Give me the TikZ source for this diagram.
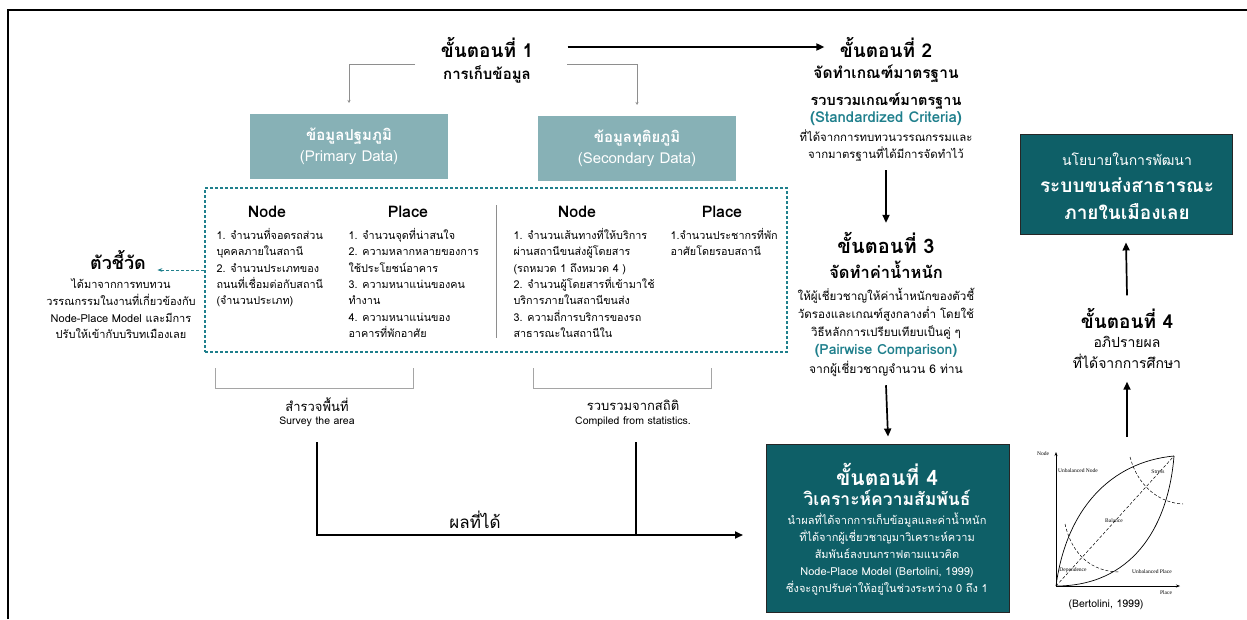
\documentclass[tikz,border=0pt]{standalone}
\usepackage{fontspec}
\setmainfont[Script=Thai]{Loma}
\newfontfamily\graphfont{Liberation Serif}
\usetikzlibrary{arrows.meta, positioning, calc}
\definecolor{cteal}{HTML}{0E5F67}
\definecolor{clight}{HTML}{87B1B6}
\definecolor{caccent}{HTML}{1F7F8C}
\definecolor{cgrey}{HTML}{8E8E8E}
\newcommand{\fsz}[2]{\fontsize{#1}{#2}\selectfont}
\tikzset{
  every picture/.style={line width=1pt},
  txt/.style={inner sep=0pt, align=center},
  steptitle/.style={txt, font=\fsz{19}{23}\bfseries},
  stepsub/.style={txt, font=\fsz{15.5}{20}\bfseries},
  body/.style={txt, font=\fsz{11.5}{17.5}},
  accent/.style={txt, font=\fsz{14}{18}\bfseries, text=caccent},
  colhead/.style={txt, font=\fsz{16}{20}\bfseries},
  list/.style={inner sep=0pt, align=left, anchor=north west, font=\fsz{10.8}{16.3}},
  databox/.style={fill=clight, text=white, align=center, minimum width=198pt, minimum height=65pt, font=\fsz{15}{21}},
  darkbox/.style={fill=cteal, draw=black!85, line width=0.9pt},
  arrow/.style={-{Triangle[length=8pt, width=7pt]}, line width=1.7pt},
  link/.style={draw=cgrey, line width=0.9pt, -{Stealth[length=3pt, width=3pt]}},
  bracket/.style={draw=cgrey!80, line width=0.9pt},
  dasharrow/.style={draw=caccent, densely dashed, line width=1pt, -{Stealth[length=5pt]}},
  glabel/.style={inner sep=0pt, font=\graphfont\fsz{5.5}{6}},
}
\begin{document}
\begin{tikzpicture}[x=1pt, y=-1pt]
  \useasboundingbox (0,0) rectangle (1247,619);
  % frame
  \draw[line width=2.6pt] (8,619) -- (8,10) -- (1247,10);

  % step 1: data collection
  \node[steptitle] (s1) at (487,47) {ขั้นตอนที่ 1};
  \node[stepsub, font=\fsz{15}{19}\bfseries] (s1sub) at (487,74) {การเก็บข้อมูล};
  \node[databox] (prim) at (349,146) {{\bfseries ข้อมูลปฐมภูมิ}\\(Primary Data)};
  \node[databox] (sec) at (637,148) {{\bfseries ข้อมูลทุติยภูมิ}\\(Secondary Data)};
  \coordinate (s1l) at (415,64);
  \coordinate (s1r) at (567,64);
  \draw[link] (s1l) -| ([yshift=10pt]prim.north);
  \draw[link] (s1r) -| ([yshift=10pt]sec.north);

  % indicators
  \node[draw=caccent, densely dashed, line width=1.1pt, minimum width=582pt, minimum height=164pt] (dbox) at (496,270) {};
  \draw[draw=cgrey, line width=0.9pt] (496,205) -- (496,338);
  \node[colhead] (h1) at (267,212) {Node};
  \node[colhead] (h2) at (408,212) {Place};
  \node[colhead] (h3) at (577,212) {Node};
  \node[colhead] (h4) at (722,212) {Place};
  \node[list] (c1) at (216,228) {1. จำนวนที่จอดรถส่วน\\บุคคลภายในสถานี\\2. จำนวนประเภทของ\\ถนนที่เชื่อมต่อกับสถานี\\(จำนวนประเภท)};
  \node[list] (c2) at (348,228) {1. จำนวนจุดที่น่าสนใจ\\2. ความหลากหลายของการ\\ใช้ประโยชน์อาคาร\\3. ความหนาแน่นของคน\\ทำงาน\\4. ความหนาแน่นของ\\อาคารที่พักอาศัย};
  \node[list] (c3) at (513,228) {1. จำนวนเส้นทางที่ให้บริการ\\ผ่านสถานีขนส่งผู้โดยสาร\\(รถหมวด 1 ถึงหมวด 4 )\\2. จำนวนผู้โดยสารที่เข้ามาใช้\\บริการภายในสถานีขนส่ง\\3. ความถี่การบริการของรถ\\สาธารณะในสถานีใน};
  \node[list] (c4) at (670,228) {1.จำนวนประชากรที่พัก\\อาศัยโดยรอบสถานี};

  \node[txt, font=\fsz{18}{22}\bfseries] (ind) at (118,260) {ตัวชี้วัด};
  \node[body, font=\fsz{11}{16.7}] (indtxt) at (121,309) {ได้มาจากการทบทวน\\วรรณกรรมในงานที่เกี่ยวข้องกับ\\Node-Place Model และมีการ\\ปรับให้เข้ากับบริบทเมืองเลย};
  \draw[dasharrow] (dbox.west) -- ([xshift=11pt]ind.east |- dbox.west);

  % sources
  \draw[bracket] (215,368) -- (215,388) -- (413,388) -- (413,368);
  \draw[bracket] (533,368) -- (533,388) -- (711,388) -- (711,368);
  \node[txt, font=\fsz{13}{16}] (survey) at (317,405) {สำรวจพื้นที่};
  \node[txt, font=\fsz{10.5}{13}] (surveyen) at (317,422) {Survey the area};
  \node[txt, font=\fsz{13}{16}] (stat) at (633,405) {รวบรวมจากสถิติ};
  \node[txt, font=\fsz{10.5}{13}] (staten) at (633,422) {Compiled from statistics.};
  \coordinate (resend) at (743,535);
  \draw[arrow] ([yshift=-15pt]surveyen.south) |- (resend);
  \draw[line width=1.7pt] ([yshift=-15pt]staten.south -| 636,0) -- (636,535);
  \node[txt, font=\fsz{17}{20}] (result) at (475,520) {ผลที่ได้};

  % step 2
  \node[steptitle] (s2) at (886,47) {ขั้นตอนที่ 2};
  \node[stepsub] (s2a) at (886,74) {จัดทำเกณฑ์มาตรฐาน};
  \node[stepsub, font=\fsz{14.5}{18}\bfseries] (s2b) at (886,101) {รวบรวมเกณฑ์มาตรฐาน};
  \node[accent, font=\fsz{15}{18}\bfseries] (s2c) at (886,119) {(Standardized Criteria)};
  \node[body, font=\fsz{11.4}{17}] (s2d) at (886,146) {ที่ได้จากการทบทวนวรรณกรรมและ\\จากมาตรฐานที่ได้มีการจัดทำไว้};
  \draw[arrow] ([xshift=34pt]s1.east) -- ([xshift=-15pt]s2.west);

  % step 3
  \node[steptitle, font=\fsz{20}{24}\bfseries] (s3) at (886,243) {ขั้นตอนที่ 3};
  \node[stepsub, font=\fsz{16.5}{20}\bfseries] (s3a) at (886,270) {จัดทำค่าน้ำหนัก};
  \node[body, font=\fsz{11.6}{18}] (s3b) at (886,314) {ให้ผู้เชี่ยวชาญให้ค่าน้ำหนักของตัวชี้\\วัดรองและเกณฑ์สูงกลางต่ำ โดยใช้\\วิธีหลักการเปรียบเทียบเป็นคู่ ๆ};
  \node[accent] (s3c) at (886,351) {(Pairwise Comparison)};
  \node[body, font=\fsz{12}{17}] (s3d) at (886,369) {จากผู้เชี่ยวชาญจำนวน 6 ท่าน};
  \draw[arrow] ([yshift=-8pt]s2d.south) -- ([yshift=9pt]s3.north);

  % step 4: analysis
  \node[darkbox, minimum width=243pt, minimum height=168pt] (s4) at (888,528) {};
  \node[steptitle, font=\fsz{21}{25}\bfseries, text=white] (s4a) at (887,474) {ขั้นตอนที่ 4};
  \node[stepsub, font=\fsz{17.5}{21}\bfseries, text=white] (s4b) at (887,498) {วิเคราะห์ความสัมพันธ์};
  \node[body, font=\fsz{11}{17}, text=white] (s4c) at (887,554) {นำผลที่ได้จากการเก็บข้อมูลและค่าน้ำหนัก\\ที่ได้จากผู้เชี่ยวชาญมาวิเคราะห์ความ\\สัมพันธ์ลงบนกราฟตามแนวคิด\\Node-Place Model (Bertolini, 1999)\\ซึ่งจะถูกปรับค่าให้อยู่ในช่วงระหว่าง 0 ถึง 1};
  \draw[arrow] ([yshift=-8pt]s3d.south) -- ([yshift=7pt]s4.north);

  % node-place graph
  \begin{scope}[line width=0.7pt]
    \draw[-{Stealth[length=4pt]}] (1056,586) -- (1056,452);
    \draw[-{Stealth[length=4pt]}] (1056,586) -- (1180,586);
    \draw (1056,586) .. controls (1066,510) and (1110,462) .. (1174,456);
    \draw (1056,586) .. controls (1130,586) and (1168,530) .. (1174,456);
    \draw[densely dashed, line width=0.5pt] (1056,586) -- (1174,456);
    \draw[densely dashed, line width=0.5pt] (1130,457) .. controls (1138,487) and (1160,503) .. (1183,504);
    \draw[densely dashed, line width=0.5pt] (1065,524) .. controls (1072,555) and (1092,572) .. (1120,572);
  \end{scope}
  \node[glabel] (gnode) at (1043,454) {Node};
  \node[glabel] (gun) at (1078,471) {Unbalanced Node};
  \node[glabel] (gstress) at (1158,472) {Stress};
  \node[glabel] (gbal) at (1114,521) {Balance};
  \node[glabel] (gdep) at (1073,570) {Dependence};
  \node[glabel] (gup) at (1152,572) {Unbalanced Place};
  \node[glabel] (gplace) at (1166,593) {Place};
  \node[txt, font=\fsz{10.5}{13}] (gref) at (1106,605) {(Bertolini, 1999)};

  % step 4: discussion and policy
  \node[darkbox, minimum width=212pt, minimum height=100pt] (policy) at (1126,184) {};
  \node[txt, font=\fsz{14}{18}, text=white] (pa) at (1127,159) {นโยบายในการพัฒนา};
  \node[txt, font=\fsz{19}{23}\bfseries, text=white] (pb) at (1127,185) {ระบบขนส่งสาธารณะ};
  \node[txt, font=\fsz{19}{23}\bfseries, text=white] (pc) at (1127,212) {ภายในเมืองเลย};
  \node[steptitle] (s4r) at (1127,318) {ขั้นตอนที่ 4};
  \node[txt, font=\fsz{14}{18}] (s4ra) at (1127,342) {อภิปรายผล};
  \node[txt, font=\fsz{14}{18}] (s4rb) at (1127,361) {ที่ได้จากการศึกษา};
  \coordinate (gtop) at (1127,437);
  \draw[arrow] (gtop) -- ([yshift=-13pt]s4rb.south);
  \draw[arrow] ([yshift=12pt]s4r.north) -- ([yshift=-8pt]policy.south);
\end{tikzpicture}
\end{document}
